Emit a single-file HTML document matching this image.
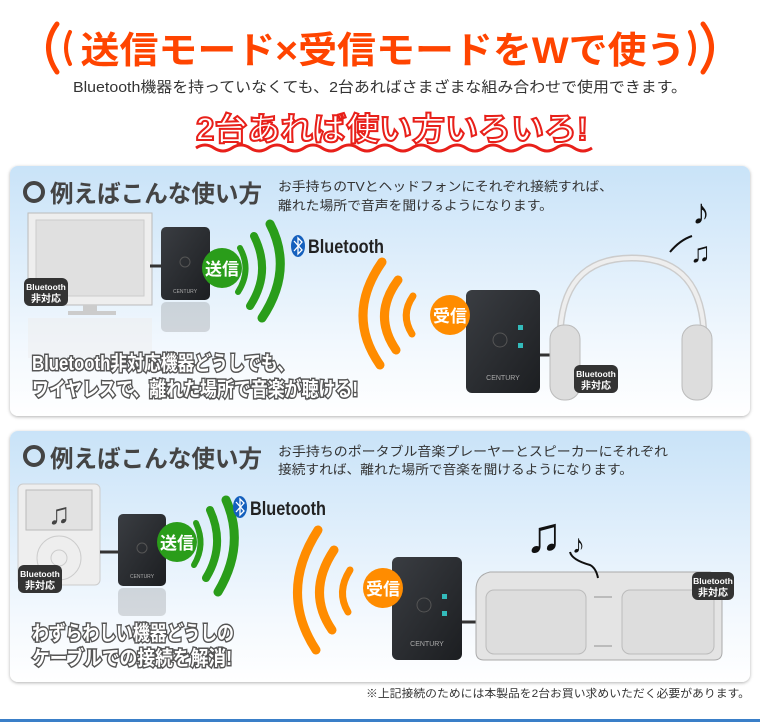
<!DOCTYPE html>
<html><head><meta charset="utf-8"><style>
html,body{margin:0;padding:0;background:#fff;width:760px;height:722px;overflow:hidden}
svg{display:block}
text{font-family:"Liberation Sans","Noto Sans CJK JP",sans-serif}
</style></head><body>
<svg width="760" height="722" viewBox="0 0 760 722" xmlns="http://www.w3.org/2000/svg">
<defs>
<linearGradient id="pg" x1="0" y1="0" x2="0" y2="1"><stop offset="0" stop-color="#c9e3f8"/><stop offset="0.75" stop-color="#f4f9fe"/><stop offset="1" stop-color="#ffffff"/></linearGradient>
<linearGradient id="dev" x1="0" y1="0" x2="1" y2="1"><stop offset="0" stop-color="#3a3d42"/><stop offset="1" stop-color="#1c1e21"/></linearGradient>
<filter id="sh" x="-5%" y="-5%" width="110%" height="115%"><feDropShadow dx="0" dy="1" stdDeviation="1.5" flood-color="#000" flood-opacity="0.3"/></filter>
</defs>

<!-- header -->
<g fill="none" stroke="#ff4400" stroke-width="5" stroke-linecap="round">
<path d="M57 24 Q40 47 57 72"/><path d="M70 32 Q62 48 70 64" stroke-width="4"/>
<path d="M703 24 Q720 47 703 72"/><path d="M690 32 Q698 48 690 64" stroke-width="4"/>
</g>
<text x="383" y="63" text-anchor="middle" font-size="37" font-weight="bold" fill="#ff4400" textLength="605" lengthAdjust="spacingAndGlyphs">送信モード×受信モードをWで使う</text>
<text x="380" y="92" text-anchor="middle" font-size="15" fill="#333" textLength="614" lengthAdjust="spacingAndGlyphs">Bluetooth機器を持っていなくても、2台あればさまざまな組み合わせで使用できます。</text>
<text x="392" y="140" text-anchor="middle" font-size="32" font-weight="bold" fill="#fff" stroke="#e8201a" stroke-width="2" textLength="392" lengthAdjust="spacingAndGlyphs">2台あれば使い方いろいろ!</text>
<path d="M196 148 q9 -6 18 0 t18 0 t18 0 t18 0 t18 0 t18 0 t18 0 t18 0 t18 0 t18 0 t18 0 t18 0 t18 0 t18 0 t18 0 t18 0 t18 0 t18 0 t18 0 t18 0 t18 0 t18 0" fill="none" stroke="#e8201a" stroke-width="3"/>

<!-- panel 1 -->
<rect x="10" y="166" width="740" height="250" rx="8" fill="url(#pg)" filter="url(#sh)"/>
<circle cx="34" cy="192" r="9" fill="none" stroke="#444" stroke-width="4"/>
<text x="50" y="202" font-size="24" font-weight="bold" fill="#444" textLength="212" lengthAdjust="spacingAndGlyphs">例えばこんな使い方</text>
<text x="278" y="191" font-size="13" fill="#333" textLength="335" lengthAdjust="spacingAndGlyphs">お手持ちのTVとヘッドフォンにそれぞれ接続すれば、</text>
<text x="278" y="210" font-size="13" fill="#333" textLength="275" lengthAdjust="spacingAndGlyphs">離れた場所で音声を聞けるようになります。</text>
<rect x="28" y="213" width="124" height="92" fill="#eee" stroke="#bbb"/>
<rect x="36" y="220" width="108" height="76" fill="#e0e0e0" stroke="#ccc"/>
<rect x="83" y="305" width="14" height="7" fill="#ccc"/><rect x="68" y="311" width="48" height="4" fill="#ccc"/>
<rect x="28" y="318" width="124" height="40" fill="#eee" opacity="0.5"/>
<line x1="150" y1="266" x2="162" y2="266" stroke="#333" stroke-width="3"/>
<rect x="161" y="227" width="49" height="73" rx="5" fill="url(#dev)"/>
<circle cx="185" cy="262" r="5" fill="none" stroke="#555"/>
<text x="185" y="293" text-anchor="middle" font-size="5" fill="#aaa">CENTURY</text>
<rect x="161" y="302" width="49" height="30" rx="5" fill="#555" opacity="0.2"/>
<rect x="24" y="278" width="44" height="28" rx="6" fill="#333"/>
<text x="46" y="290" text-anchor="middle" font-size="8.5" fill="#fff" font-weight="bold">Bluetooth</text>
<text x="46" y="302" text-anchor="middle" font-size="10" fill="#fff" font-weight="bold">非対応</text>
<g fill="none" stroke="#2a9d1a" stroke-width="8" stroke-linecap="round">
<path d="M238 292 Q252 270 240 248" stroke-width="6"/>
<path d="M250 306 Q272 272 254 236"/>
<path d="M262 318 Q294 270 270 224" stroke-width="9"/>
</g>
<circle cx="222" cy="268" r="20" fill="#2a9d1a"/>
<text x="222" y="275" text-anchor="middle" font-size="17" font-weight="bold" fill="#fff">送信</text>
<ellipse cx="298" cy="246" rx="7" ry="11" fill="#1560bd"/>
<path d="M294 241 L302 250 L298 254 L298 238 L302 242 L294 251" fill="none" stroke="#fff" stroke-width="1.3"/>
<text x="308" y="253" font-size="19" font-weight="bold" fill="#222" textLength="76" lengthAdjust="spacingAndGlyphs">Bluetooth</text>
<g fill="none" stroke="#ff8c00" stroke-width="9" stroke-linecap="round">
<path d="M382 262 Q345 315 380 365"/>
<path d="M398 280 Q372 315 396 350"/>
<path d="M413 296 Q400 315 412 334" stroke-width="7"/>
</g>
<rect x="466" y="290" width="74" height="103" rx="6" fill="url(#dev)"/>
<circle cx="500" cy="340" r="7" fill="none" stroke="#555"/>
<rect x="518" y="325" width="5" height="5" fill="#3bb"/><rect x="518" y="343" width="5" height="5" fill="#3bb"/>
<text x="503" y="380" text-anchor="middle" font-size="7" fill="#aaa">CENTURY</text>
<circle cx="450" cy="315" r="20" fill="#ff8c00"/>
<text x="450" y="322" text-anchor="middle" font-size="17" font-weight="bold" fill="#fff">受信</text>
<line x1="540" y1="355" x2="556" y2="355" stroke="#333" stroke-width="3"/>
<path d="M560 340 Q560 258 632 258 Q704 258 704 340" fill="none" stroke="#ccc" stroke-width="7"/>
<path d="M560 340 Q560 258 632 258 Q704 258 704 340" fill="none" stroke="#eee" stroke-width="4"/>
<rect x="550" y="325" width="30" height="75" rx="14" fill="#ddd" stroke="#bbb"/>
<rect x="682" y="325" width="30" height="75" rx="14" fill="#ddd" stroke="#bbb"/>
<rect x="574" y="365" width="44" height="28" rx="6" fill="#333"/>
<text x="596" y="377" text-anchor="middle" font-size="8.5" fill="#fff" font-weight="bold">Bluetooth</text>
<text x="596" y="389" text-anchor="middle" font-size="10" fill="#fff" font-weight="bold">非対応</text>
<text x="692" y="224" font-size="36" fill="#111">♪</text>
<text x="690" y="262" font-size="28" fill="#111">♫</text>
<path d="M670 252 Q680 240 692 236" fill="none" stroke="#111" stroke-width="2"/>
<text x="32" y="370" font-size="20" font-weight="bold" fill="#fff" stroke="#555" stroke-width="3" paint-order="stroke" textLength="262" lengthAdjust="spacingAndGlyphs">Bluetooth非対応機器どうしでも、</text>
<text x="32" y="396" font-size="20" font-weight="bold" fill="#fff" stroke="#555" stroke-width="3" paint-order="stroke" textLength="326" lengthAdjust="spacingAndGlyphs">ワイヤレスで、離れた場所で音楽が聴ける!</text>

<!-- panel 2 -->
<rect x="10" y="431" width="740" height="251" rx="8" fill="url(#pg)" filter="url(#sh)"/>
<circle cx="34" cy="456" r="9" fill="none" stroke="#444" stroke-width="4"/>
<text x="50" y="467" font-size="24" font-weight="bold" fill="#444" textLength="212" lengthAdjust="spacingAndGlyphs">例えばこんな使い方</text>
<text x="278" y="456" font-size="13" fill="#333" textLength="390" lengthAdjust="spacingAndGlyphs">お手持ちのポータブル音楽プレーヤーとスピーカーにそれぞれ</text>
<text x="278" y="474" font-size="13" fill="#333" textLength="355" lengthAdjust="spacingAndGlyphs">接続すれば、離れた場所で音楽を聞けるようになります。</text>
<rect x="18" y="484" width="82" height="101" rx="5" fill="#eee" stroke="#ccc"/>
<rect x="26" y="490" width="66" height="40" fill="#e2e2e2" stroke="#bbb"/>
<text x="59" y="524" text-anchor="middle" font-size="30" fill="#444">♫</text>
<circle cx="59" cy="558" r="22" fill="none" stroke="#ccc"/><circle cx="59" cy="558" r="8" fill="none" stroke="#ccc"/>
<line x1="100" y1="552" x2="118" y2="552" stroke="#333" stroke-width="3"/>
<rect x="118" y="514" width="48" height="72" rx="5" fill="url(#dev)"/>
<circle cx="142" cy="548" r="5" fill="none" stroke="#555"/>
<text x="142" y="578" text-anchor="middle" font-size="5" fill="#aaa">CENTURY</text>
<rect x="118" y="588" width="48" height="28" rx="5" fill="#555" opacity="0.2"/>
<rect x="18" y="565" width="44" height="28" rx="6" fill="#333"/>
<text x="40" y="577" text-anchor="middle" font-size="8.5" fill="#fff" font-weight="bold">Bluetooth</text>
<text x="40" y="589" text-anchor="middle" font-size="10" fill="#fff" font-weight="bold">非対応</text>
<g fill="none" stroke="#2a9d1a" stroke-width="8" stroke-linecap="round">
<path d="M194 565 Q206 545 196 523" stroke-width="6"/>
<path d="M206 578 Q226 545 210 510"/>
<path d="M218 592 Q246 545 226 500" stroke-width="9"/>
</g>
<circle cx="177" cy="542" r="20" fill="#2a9d1a"/>
<text x="177" y="549" text-anchor="middle" font-size="17" font-weight="bold" fill="#fff">送信</text>
<ellipse cx="240" cy="507" rx="7" ry="11" fill="#1560bd"/>
<path d="M236 502 L244 511 L240 515 L240 499 L244 503 L236 512" fill="none" stroke="#fff" stroke-width="1.3"/>
<text x="250" y="515" font-size="19" font-weight="bold" fill="#222" textLength="76" lengthAdjust="spacingAndGlyphs">Bluetooth</text>
<g fill="none" stroke="#ff8c00" stroke-width="9" stroke-linecap="round">
<path d="M318 530 Q278 592 316 650"/>
<path d="M334 550 Q306 592 332 630"/>
<path d="M350 570 Q336 592 348 612" stroke-width="7"/>
</g>
<rect x="392" y="557" width="70" height="103" rx="6" fill="url(#dev)"/>
<circle cx="424" cy="605" r="7" fill="none" stroke="#555"/>
<rect x="442" y="594" width="5" height="5" fill="#3bb"/><rect x="442" y="611" width="5" height="5" fill="#3bb"/>
<text x="427" y="646" text-anchor="middle" font-size="7" fill="#aaa">CENTURY</text>
<circle cx="383" cy="588" r="20" fill="#ff8c00"/>
<text x="383" y="595" text-anchor="middle" font-size="17" font-weight="bold" fill="#fff">受信</text>
<line x1="462" y1="622" x2="478" y2="622" stroke="#333" stroke-width="3"/>
<path d="M490 572 L710 572 Q722 575 722 590 L722 652 Q722 660 714 660 L484 660 Q476 660 476 652 L476 590 Q476 575 490 572 Z" fill="#e4e4e4" stroke="#aaa"/>
<rect x="486" y="590" width="100" height="64" rx="8" fill="#ddd" stroke="#bbb"/>
<rect x="622" y="590" width="92" height="64" rx="8" fill="#ddd" stroke="#bbb"/>
<rect x="594" y="596" width="18" height="2" fill="#bbb"/><rect x="594" y="645" width="18" height="2" fill="#bbb"/>
<rect x="692" y="572" width="42" height="28" rx="6" fill="#333"/>
<text x="713" y="584" text-anchor="middle" font-size="8.5" fill="#fff" font-weight="bold">Bluetooth</text>
<text x="713" y="596" text-anchor="middle" font-size="10" fill="#fff" font-weight="bold">非対応</text>
<text x="525" y="552" font-size="50" fill="#111">♫</text>
<text x="572" y="553" font-size="26" fill="#111">♪</text>
<path d="M570 552 Q572 560 590 565 Q596 568 598 578" fill="none" stroke="#111" stroke-width="2"/>
<text x="32" y="640" font-size="20" font-weight="bold" fill="#fff" stroke="#555" stroke-width="3" paint-order="stroke" textLength="202" lengthAdjust="spacingAndGlyphs">わずらわしい機器どうしの</text>
<text x="32" y="665" font-size="20" font-weight="bold" fill="#fff" stroke="#555" stroke-width="3" paint-order="stroke" textLength="200" lengthAdjust="spacingAndGlyphs">ケーブルでの接続を解消!</text>

<text x="750" y="697" text-anchor="end" font-size="11" fill="#333" textLength="384" lengthAdjust="spacingAndGlyphs">※上記接続のためには本製品を2台お買い求めいただく必要があります。</text>
<rect x="0" y="719" width="760" height="3" fill="#3a7fc8"/>
</svg>
</body></html>
